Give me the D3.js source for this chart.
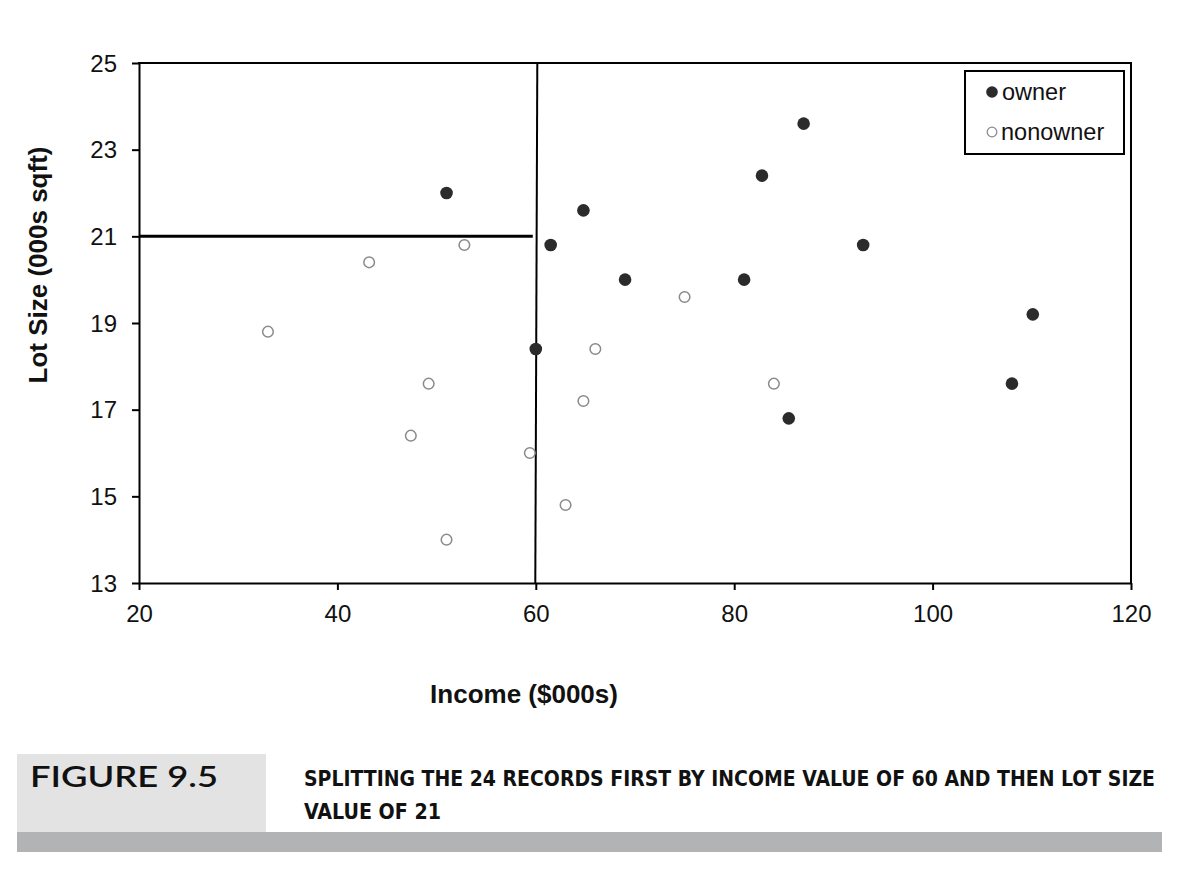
<!DOCTYPE html>
<html><head><meta charset="utf-8">
<script src="https://cdn.jsdelivr.net/npm/d3@7"></script>
<style>body{margin:0;background:#fff;}svg{display:block;}</style>
</head><body>
<svg id="c" width="1184" height="872"></svg>
<script>
const ownerIncome = [60, 85.5, 64.8, 61.5, 87, 110.1, 108, 82.8, 69, 93, 51, 81];
const ownerLot    = [18.4, 16.8, 21.6, 20.8, 23.6, 19.2, 17.6, 22.4, 20, 20.8, 22, 20];
const nonIncome   = [75, 52.8, 64.8, 43.2, 84, 49.2, 59.4, 66, 47.4, 33, 51, 63];
const nonLot      = [19.6, 20.8, 17.2, 20.4, 17.6, 17.6, 16, 18.4, 16.4, 18.8, 14, 14.8];
const xTicks = [20, 40, 60, 80, 100, 120];
const yTicks = [13, 15, 17, 19, 21, 23, 25];
const splitIncome = 60, splitLot = 21;
const captionNum = "FIGURE 9.5";
const captionLines = ["SPLITTING THE 24 RECORDS FIRST BY INCOME VALUE OF 60 AND THEN LOT SIZE", "VALUE OF 21"];

const svg = d3.select("#c");
const L = 139, R = 1131, T = 63, B = 583;
const x = d3.scaleLinear().domain([20, 120]).range([L, R]);
const y = d3.scaleLinear().domain([13, 25]).range([B, T]);
const font = "Liberation Sans, Arial, sans-serif";

// axes
const xa = svg.append("g").attr("transform", `translate(0,${B})`)
  .call(d3.axisBottom(x).tickValues(xTicks).tickSize(7).tickSizeOuter(0));
const ya = svg.append("g").attr("transform", `translate(${L},0)`)
  .call(d3.axisLeft(y).tickValues(yTicks).tickSize(7).tickSizeOuter(0));
[xa, ya].forEach(a => {
  a.select(".domain").attr("stroke", "#000").attr("stroke-width", 2);
  a.selectAll(".tick line").attr("stroke", "#000").attr("stroke-width", 2);
  a.selectAll(".tick text").attr("font-family", font).attr("font-size", 24).attr("fill", "#111");
});
xa.selectAll(".tick text").attr("y", 39).attr("dy", 0);
ya.selectAll(".tick text").attr("x", -22).attr("dy", "0.34em");

// top and right frame
svg.append("line").attr("x1", L - 1).attr("x2", R + 1).attr("y1", T).attr("y2", T).attr("stroke", "#000").attr("stroke-width", 2);
svg.append("line").attr("x1", R).attr("x2", R).attr("y1", T).attr("y2", B).attr("stroke", "#000").attr("stroke-width", 2);

// split lines
svg.append("line").attr("x1", x(splitIncome) + 1.5).attr("x2", x(splitIncome) - 0.5).attr("y1", T).attr("y2", B)
  .attr("stroke", "#000").attr("stroke-width", 2);
svg.append("line").attr("x1", L).attr("x2", x(splitIncome) - 3).attr("y1", y(splitLot)).attr("y2", y(splitLot))
  .attr("stroke", "#000").attr("stroke-width", 3);

// points
const owners = ownerIncome.map((v, i) => ({x: v, y: ownerLot[i]}));
const nons = nonIncome.map((v, i) => ({x: v, y: nonLot[i]}));
svg.append("g").selectAll("circle").data(nons).join("circle")
  .attr("cx", d => x(d.x)).attr("cy", d => y(d.y)).attr("r", 5.3)
  .attr("fill", "#fff").attr("stroke", "#8a8a8a").attr("stroke-width", 1.5);
svg.append("g").selectAll("circle").data(owners).join("circle")
  .attr("cx", d => x(d.x)).attr("cy", d => y(d.y)).attr("r", 6.3)
  .attr("fill", "#2b2b2b");

// legend
const lg = svg.append("g");
lg.append("rect").attr("x", 965).attr("y", 71).attr("width", 159).attr("height", 83)
  .attr("fill", "#fff").attr("stroke", "#000").attr("stroke-width", 2);
lg.append("circle").attr("cx", 992).attr("cy", 92).attr("r", 5.8).attr("fill", "#2b2b2b");
lg.append("circle").attr("cx", 992).attr("cy", 132).attr("r", 4.8).attr("fill", "#fff").attr("stroke", "#8a8a8a").attr("stroke-width", 1.3);
lg.append("text").attr("x", 1002).attr("y", 100).text("owner").attr("font-family", font).attr("font-size", 23.5).attr("fill", "#111");
lg.append("text").attr("x", 1001).attr("y", 140).text("nonowner").attr("font-family", font).attr("font-size", 23.5).attr("fill", "#111");

// axis titles
svg.append("text").attr("x", 524).attr("y", 703).attr("text-anchor", "middle")
  .attr("font-family", font).attr("font-weight", "bold").attr("font-size", 26).attr("fill", "#111")
  .text("Income ($000s)");
svg.append("text").attr("transform", "translate(47,265) rotate(-90)").attr("text-anchor", "middle")
  .attr("font-family", font).attr("font-weight", "bold").attr("font-size", 26).attr("fill", "#111")
  .text("Lot Size (000s sqft)");

// caption
svg.append("rect").attr("x", 17).attr("y", 754).attr("width", 249).attr("height", 78).attr("fill", "#e3e3e3");
svg.append("rect").attr("x", 17).attr("y", 832).attr("width", 1145).attr("height", 20).attr("fill", "#b2b3b5");
svg.append("text").attr("x", 30).attr("y", 787).text(captionNum)
  .attr("font-family", "Lato, 'Open Sans', sans-serif").attr("font-size", 28).attr("fill", "#111")
  .attr("font-weight", 600)
  .attr("textLength", 188).attr("lengthAdjust", "spacingAndGlyphs");
const capW = [851, 137];
captionLines.forEach((t, i) => {
  svg.append("text").attr("x", 304).attr("y", 786 + i * 33).text(t)
    .attr("font-family", "'Liberation Sans Narrow', 'DejaVu Sans Condensed', sans-serif")
    .attr("font-weight", "bold").attr("font-size", 21).attr("fill", "#111")
    .attr("textLength", capW[i]).attr("lengthAdjust", "spacingAndGlyphs");
});
</script>
</body></html>
